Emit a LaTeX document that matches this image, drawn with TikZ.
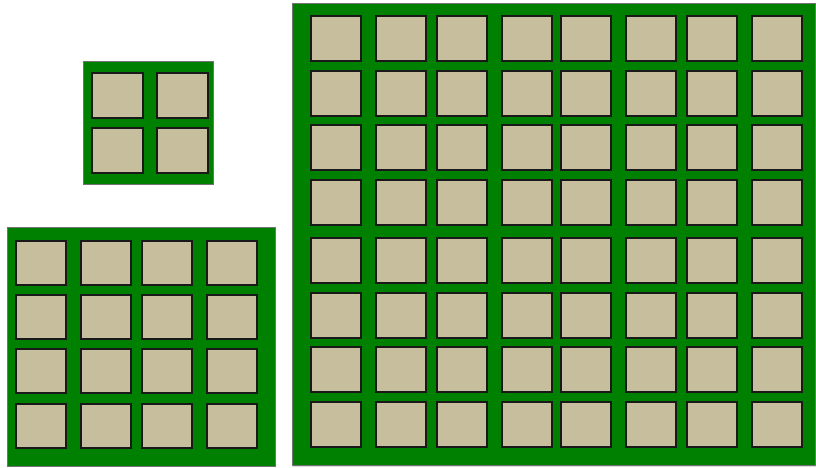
\documentclass[tikz,border=0pt]{standalone}
\usetikzlibrary{shadows}
\definecolor{boardgreen}{RGB}{0,128,0}
\definecolor{tilebeige}{RGB}{198,190,156}
\begin{document}
\begin{tikzpicture}[x=1pt,y=-1pt,
  boardbox/.style={fill=boardgreen, draw=black!55, line width=0.6pt,
    drop shadow={shadow xshift=0.8pt, shadow yshift=-1.2pt, opacity=0.3}},
  tilebox/.style={fill=tilebeige, draw=black!90, line width=1.3pt,
    drop shadow={shadow xshift=1.3pt, shadow yshift=-1.3pt, opacity=0.45}}]
\useasboundingbox (0,0) rectangle (816,468);
% small 2x2 board
\draw[boardbox] (83,61) rectangle (213,184);
\foreach \x in {92,157} \foreach \y in {73,128}
  \draw[tilebox] (\x,\y) rectangle ++(51,45);
% medium 4x4 board
\draw[boardbox] (7.5,227.5) rectangle (275,466);
\foreach \x in {16,81,142,207} \foreach \y in {241,295,349,404}
  \draw[tilebox] (\x,\y) rectangle ++(50,44);
% large 8x8 board
\draw[boardbox] (292.5,3) rectangle (815,465.5);
\foreach \x in {311,376,437,502,561,626,687,752}
  \foreach \y in {16,71,125,180,238,293,347,402}
    \draw[tilebox] (\x,\y) rectangle ++(50,45);
\end{tikzpicture}
\end{document}
